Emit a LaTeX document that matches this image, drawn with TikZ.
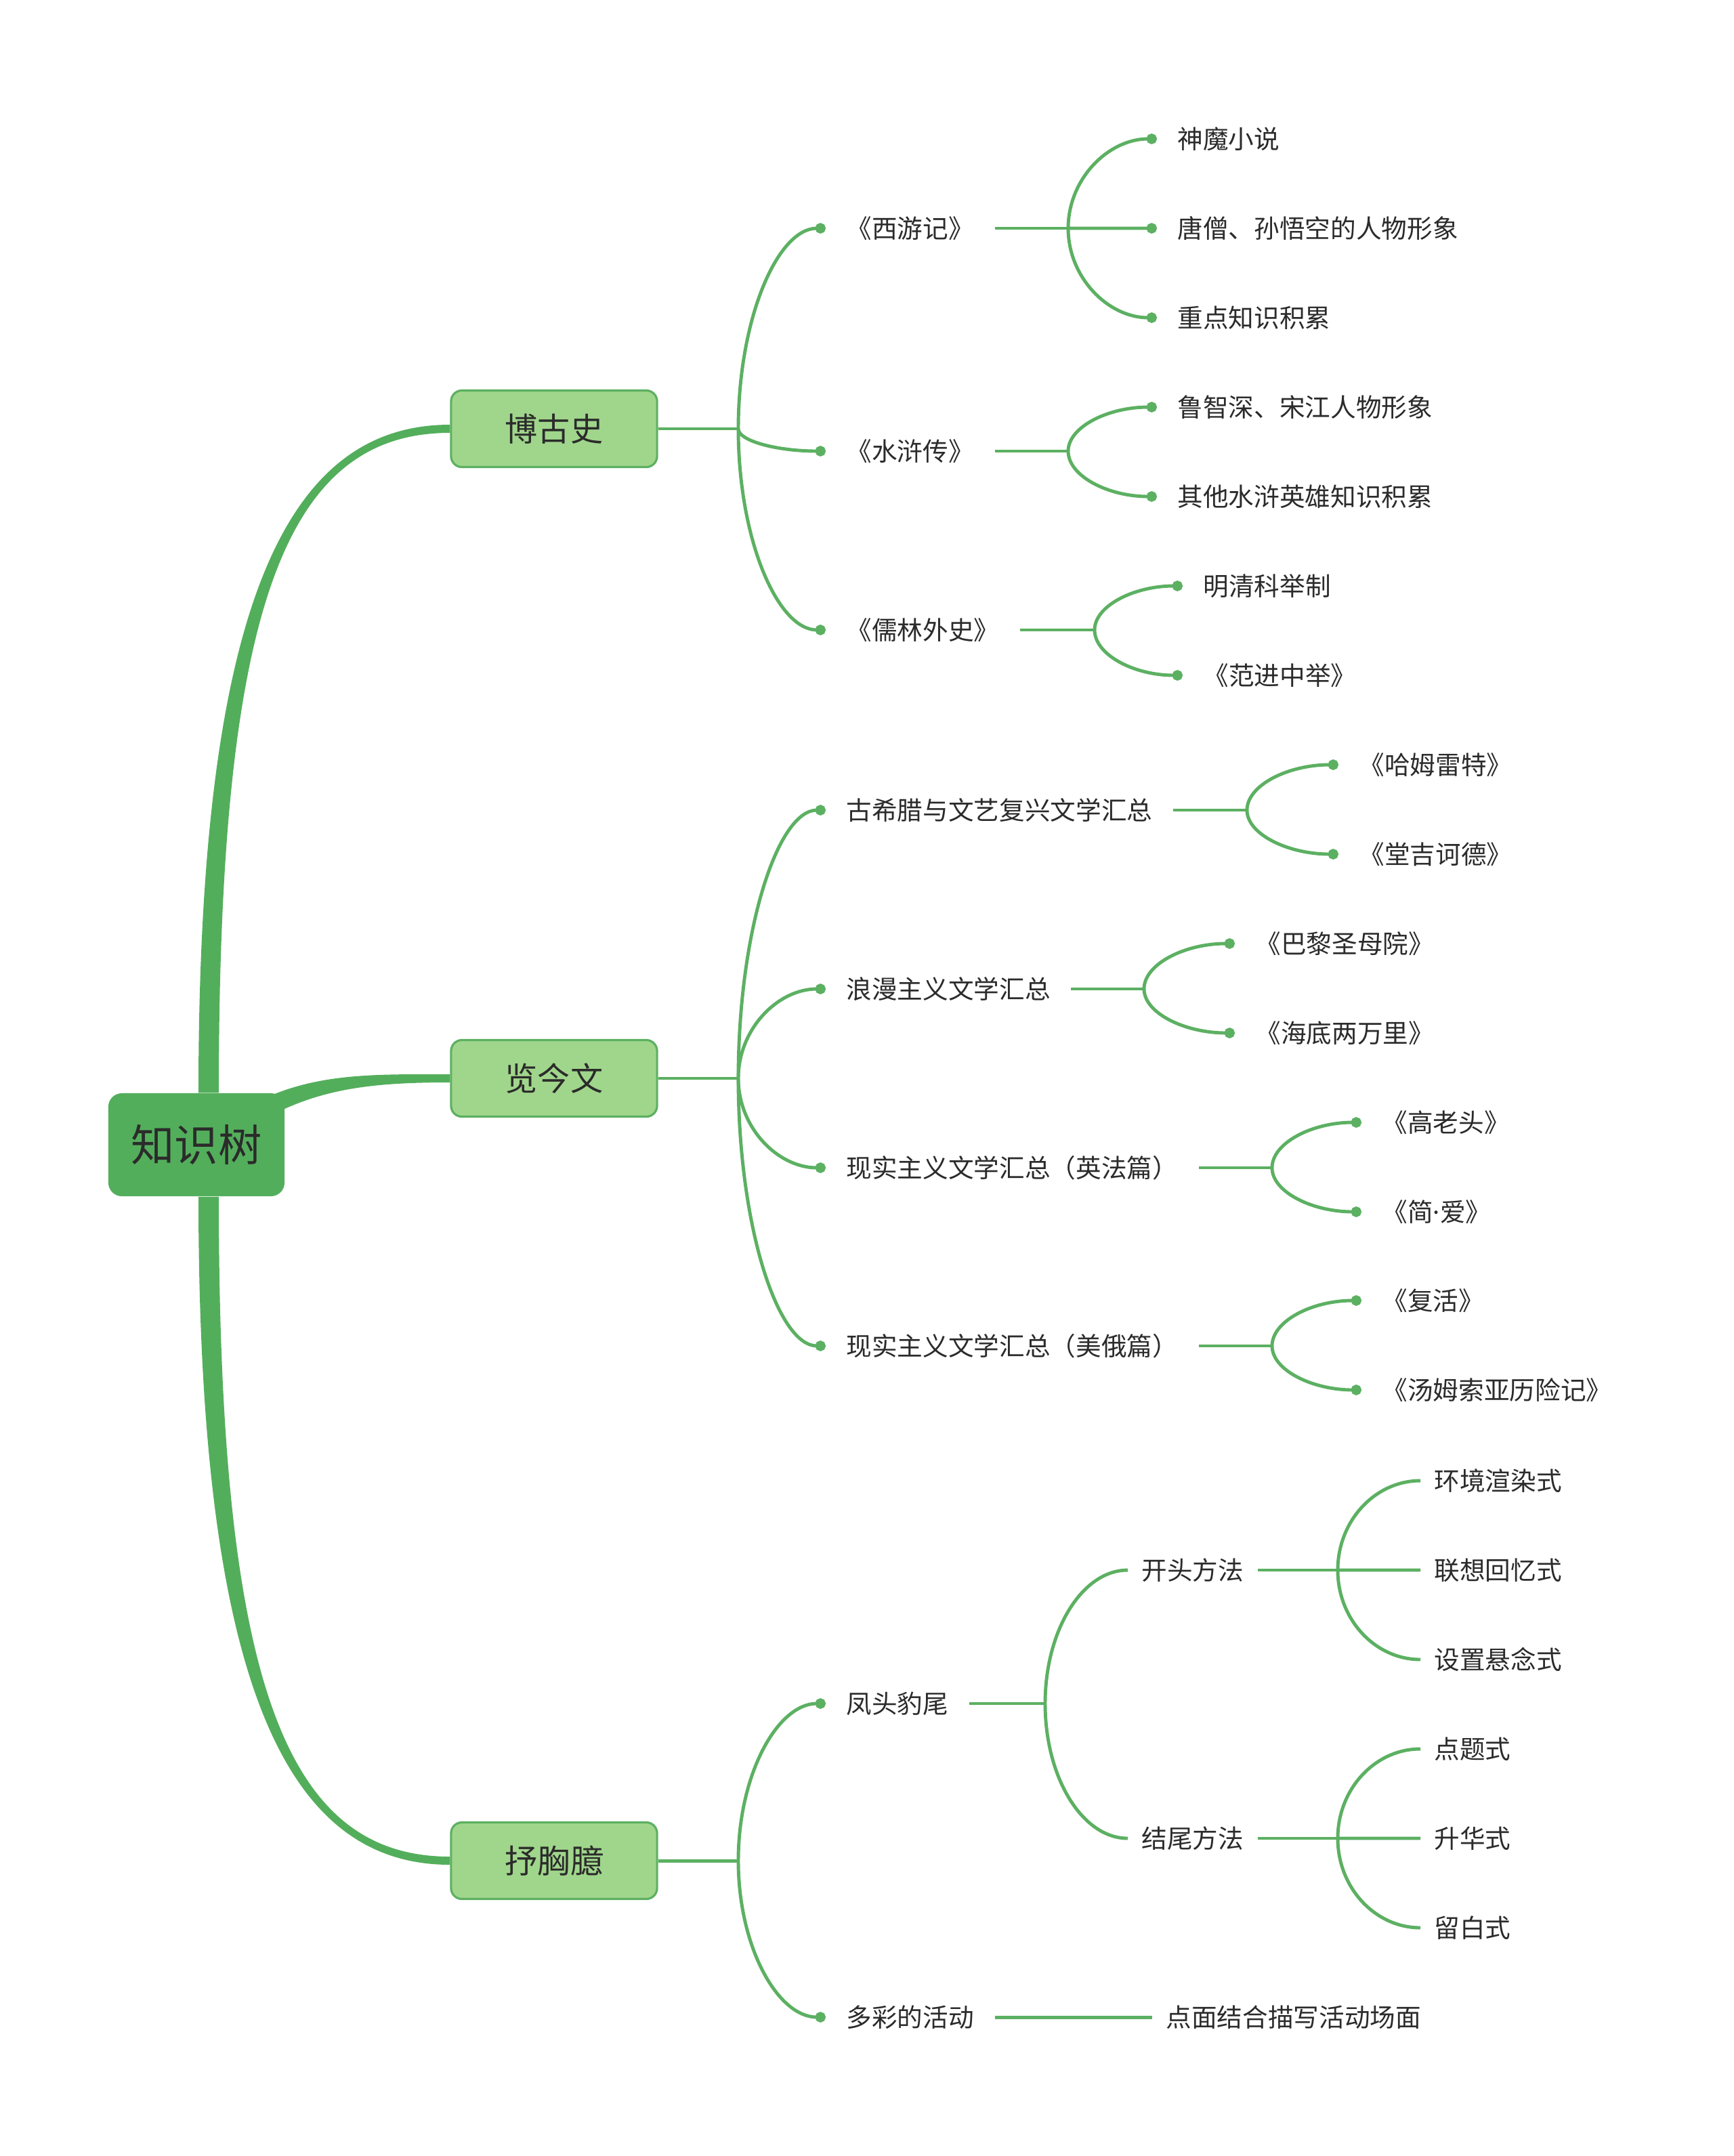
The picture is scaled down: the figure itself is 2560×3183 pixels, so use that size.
\documentclass[tikz,border=0pt]{standalone}
\usepackage{fontspec}
\setmainfont{Noto Sans CJK SC}
\newfontfamily\latinf{Noto Sans}
\usetikzlibrary{arrows.meta, calc, backgrounds}
\definecolor{rootc}{HTML}{53AE5B}
\definecolor{mainc}{HTML}{A0D68B}
\definecolor{linec}{HTML}{5CB062}
\definecolor{inkc}{HTML}{2B2B2B}

\begin{document}
\begin{tikzpicture}[x=0.01cm, y=-0.01cm,
    rt/.style={fill=rootc, rounded corners=2mm, minimum width=2.6cm, minimum height=1.52cm,
               text=inkc, font=\fontsize{18.3}{22}\selectfont},
    mn/.style={fill=mainc, draw=linec, line width=0.9pt, rounded corners=1.6mm,
               minimum width=3.04cm, minimum height=1.13cm, text=inkc,
               font=\fontsize{13.7}{16}\selectfont},
    lf/.style={anchor=west, inner xsep=3mm, inner ysep=1pt, text=inkc,
               font=\fontsize{10.7}{13}\selectfont},
    pl/.style={lf, inner xsep=2mm},
    tk/.style={fill=rootc},
    br/.style={draw=linec, line width=1.4pt},
    bd/.style={br, -{Circle[length=4.4pt, width=4.4pt]}},
    arc/.style args={#1 to #2}{insert path={(#1) .. controls ($(#1)!0.55!(#1 |- #2)$)
               and ($(#1 |- #2)!0.45!(#2)$) .. (#2)}}]
  \useasboundingbox (0,0) rectangle (2560,3183);
  \node[rt] (root) at (290,1690) {知识树};
  \node[mn] (bgs) at (818,633)  {博古史};
  \node[mn] (ljw) at (818,1592) {览今文};
  \node[mn] (sxy) at (818,2747) {抒胸臆};

  \node[lf] (xyj)   at (1219,337) {《西游记》};
  \node[lf] (shz)   at (1219,666) {《水浒传》};
  \node[lf] (rlws)  at (1219,930) {《儒林外史》};
  \node[lf] (xyj1)  at (1708,205) {神魔小说};
  \node[lf] (xyj2)  at (1708,337) {唐僧、孙悟空的人物形象};
  \node[lf] (xyj3)  at (1708,469) {重点知识积累};
  \node[lf] (shz1)  at (1708,601) {鲁智深、宋江人物形象};
  \node[lf] (shz2)  at (1708,733) {其他水浒英雄知识积累};
  \node[lf] (rlws1) at (1746,865) {明清科举制};
  \node[lf] (rlws2) at (1746,997) {《范进中举》};

  \node[lf] (gxl)   at (1219,1196) {古希腊与文艺复兴文学汇总};
  \node[lf] (lm)    at (1219,1460) {浪漫主义文学汇总};
  \node[lf] (xsyf)  at (1219,1724) {现实主义文学汇总（英法篇）};
  \node[lf] (xsme)  at (1219,1987) {现实主义文学汇总（美俄篇）};
  \node[lf] (gxl1)  at (1976,1129) {《哈姆雷特》};
  \node[lf] (gxl2)  at (1976,1261) {《堂吉诃德》};
  \node[lf] (lm1)   at (1823,1393) {《巴黎圣母院》};
  \node[lf] (lm2)   at (1823,1525) {《海底两万里》};
  \node[lf] (xsyf1) at (2010,1657) {《高老头》};
  \node[lf] (xsyf2) at (2010,1789) {《简{\latinf ·}爱》};
  \node[lf] (xsme1) at (2010,1920) {《复活》};
  \node[lf] (xsme2) at (2010,2052) {《汤姆索亚历险记》};

  \node[lf] (ftbw)  at (1219,2515) {凤头豹尾};
  \node[lf] (dchd)  at (1219,2978) {多彩的活动};
  \node[pl] (kt)    at (1665,2318) {开头方法};
  \node[pl] (jw)    at (1665,2714) {结尾方法};
  \node[pl] (kt1)   at (2097,2186) {环境渲染式};
  \node[pl] (kt2)   at (2097,2318) {联想回忆式};
  \node[pl] (kt3)   at (2097,2450) {设置悬念式};
  \node[pl] (jw1)   at (2097,2582) {点题式};
  \node[pl] (jw2)   at (2097,2714) {升华式};
  \node[pl] (jw3)   at (2097,2846) {留白式};
  \node[pl] (dchd1) at (1701,2978) {点面结合描写活动场面};

  \coordinate (jbgs)  at (1090,633);
  \coordinate (jxyj)  at (1577,337);
  \coordinate (jshz)  at (1577,666);
  \coordinate (jrlws) at (1616,930);
  \coordinate (jljw)  at (1090,1592);
  \coordinate (jgxl)  at (1841,1196);
  \coordinate (jlm)   at (1689,1460);
  \coordinate (jxsyf) at (1878,1724);
  \coordinate (jxsme) at (1878,1987);
  \coordinate (jsxy)  at (1090,2747);
  \coordinate (jftbw) at (1543,2515);
  \coordinate (jkt)   at (1975,2318);
  \coordinate (jjw)   at (1975,2714);

  \begin{scope}[on background layer]
    \fill[tk] ($(root.north)+(3,0)$) .. controls (293,900) and (420,627) .. ($(bgs.west)+(0,-6)$)
      -- ($(bgs.west)+(0,6)$) .. controls (420,639) and (323,900) .. ($(root.north)+(33,0)$) -- cycle;
    \fill[tk] ($(root.center)+(15,-15)$) .. controls (420,1582) and (520,1586) .. ($(ljw.west)+(0,-6)$)
      -- ($(ljw.west)+(0,6)$) .. controls (520,1598) and (430,1612) .. ($(root.center)+(30,10)$) -- cycle;
    \fill[tk] ($(root.south)+(3,0)$) .. controls (293,2480) and (420,2753) .. ($(sxy.west)+(0,6)$)
      -- ($(sxy.west)+(0,-6)$) .. controls (420,2741) and (323,2480) .. ($(root.south)+(33,0)$) -- cycle;
  \end{scope}

  \draw[br] (bgs.east) -- (jbgs);
  \draw[bd, arc=jbgs to xyj.west];
  \draw[bd, arc=jbgs to shz.west];
  \draw[bd, arc=jbgs to rlws.west];
  \draw[br] (xyj.east) -- (jxyj);
  \draw[bd, arc=jxyj to xyj1.west];
  \draw[bd, arc=jxyj to xyj2.west];
  \draw[bd, arc=jxyj to xyj3.west];
  \draw[br] (shz.east) -- (jshz);
  \draw[bd, arc=jshz to shz1.west];
  \draw[bd, arc=jshz to shz2.west];
  \draw[br] (rlws.east) -- (jrlws);
  \draw[bd, arc=jrlws to rlws1.west];
  \draw[bd, arc=jrlws to rlws2.west];

  \draw[br] (ljw.east) -- (jljw);
  \draw[bd, arc=jljw to gxl.west];
  \draw[bd, arc=jljw to lm.west];
  \draw[bd, arc=jljw to xsyf.west];
  \draw[bd, arc=jljw to xsme.west];
  \draw[br] (gxl.east) -- (jgxl);
  \draw[bd, arc=jgxl to gxl1.west];
  \draw[bd, arc=jgxl to gxl2.west];
  \draw[br] (lm.east) -- (jlm);
  \draw[bd, arc=jlm to lm1.west];
  \draw[bd, arc=jlm to lm2.west];
  \draw[br] (xsyf.east) -- (jxsyf);
  \draw[bd, arc=jxsyf to xsyf1.west];
  \draw[bd, arc=jxsyf to xsyf2.west];
  \draw[br] (xsme.east) -- (jxsme);
  \draw[bd, arc=jxsme to xsme1.west];
  \draw[bd, arc=jxsme to xsme2.west];

  \draw[br] (sxy.east) -- (jsxy);
  \draw[bd, arc=jsxy to ftbw.west];
  \draw[bd, arc=jsxy to dchd.west];
  \draw[br] (ftbw.east) -- (jftbw);
  \draw[br, arc=jftbw to kt.west];
  \draw[br, arc=jftbw to jw.west];
  \draw[br] (kt.east) -- (jkt);
  \draw[br, arc=jkt to kt1.west];
  \draw[br, arc=jkt to kt2.west];
  \draw[br, arc=jkt to kt3.west];
  \draw[br] (jw.east) -- (jjw);
  \draw[br, arc=jjw to jw1.west];
  \draw[br, arc=jjw to jw2.west];
  \draw[br, arc=jjw to jw3.west];
  \draw[br] (dchd.east) -- (dchd1.west);
\end{tikzpicture}
\end{document}
